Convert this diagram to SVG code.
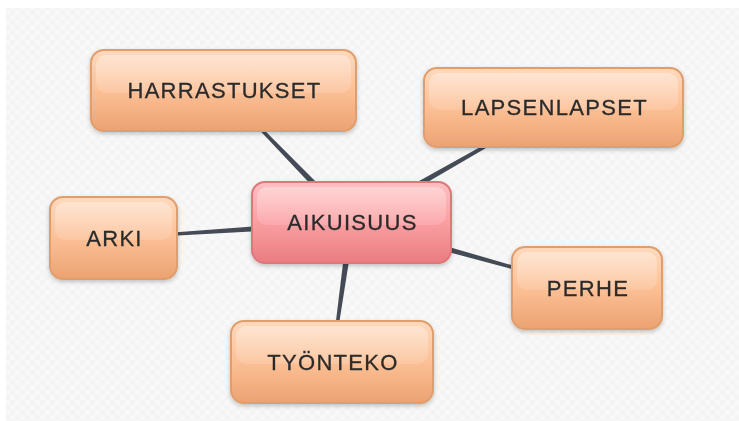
<svg xmlns="http://www.w3.org/2000/svg" width="739" height="421" viewBox="0 0 739 421">
<defs>
<pattern id="chk" width="10" height="10" patternUnits="userSpaceOnUse">
<rect width="10" height="10" fill="#f8f8f8"/>
<rect x="0" y="0" width="5" height="5" fill="#f4f4f4"/>
<rect x="5" y="5" width="5" height="5" fill="#f4f4f4"/>
</pattern>
<linearGradient id="gOr" x1="0" y1="0" x2="0" y2="1">
<stop offset="0" stop-color="#ffd9bd"/>
<stop offset="0.5" stop-color="#fcc096"/>
<stop offset="1" stop-color="#eca272"/>
</linearGradient>
<linearGradient id="gPk" x1="0" y1="0" x2="0" y2="1">
<stop offset="0" stop-color="#ffc0c2"/>
<stop offset="0.5" stop-color="#fa9fa2"/>
<stop offset="1" stop-color="#ea7c80"/>
</linearGradient>
<linearGradient id="gHi" x1="0" y1="0" x2="0" y2="1">
<stop offset="0" stop-color="#ffffff" stop-opacity="0.35"/>
<stop offset="1" stop-color="#ffffff" stop-opacity="0.12"/>
</linearGradient>
<filter id="sh" x="-10%" y="-20%" width="120%" height="150%">
<feDropShadow dx="0" dy="2" stdDeviation="2" flood-color="#000" flood-opacity="0.22"/>
</filter>
</defs>
<style>
.or{fill:url(#gOr);stroke:#e09e6d;stroke-width:2}
.pk{fill:url(#gPk);stroke:#de777a;stroke-width:2}
.hi{fill:url(#gHi)}
.lb{font-family:"Liberation Sans",Arial,sans-serif;font-size:22px;letter-spacing:1.3px;fill:#2b2b2b;stroke:#2b2b2b;stroke-width:0.3;text-anchor:middle}
.cn{fill:#454b56}
</style>
<rect x="6" y="8" width="733" height="413" fill="url(#chk)"/>
<g id="connectors">
<polygon class="cn" points="354.0,220.1 224.2,89.8 222.8,91.2 349.0,224.9"/>
<polygon class="cn" points="353.2,225.5 554.0,108.4 553.0,106.6 349.8,219.5"/>
<polygon class="cn" points="350.6,225.9 586.7,289.0 587.3,287.0 352.4,219.1"/>
<polygon class="cn" points="348.0,222.0 331.0,361.9 333.0,362.1 355.0,223.0"/>
<polygon class="cn" points="351.3,219.0 113.4,237.0 113.6,239.0 351.7,226.0"/>
</g>
<g id="harrastukset" filter="url(#sh)">
<rect class="or" x="91" y="50" width="265" height="81" rx="13"/>
<rect class="hi" x="96" y="55" width="255" height="38" rx="10"/>
<text class="lb" x="224.5" y="98.3">HARRASTUKSET</text>
</g>
<g id="lapsenlapset" filter="url(#sh)">
<rect class="or" x="424" y="68" width="259" height="79" rx="13"/>
<rect class="hi" x="429" y="73" width="249" height="37" rx="10"/>
<text class="lb" x="554.5" y="115.3">LAPSENLAPSET</text>
</g>
<g id="aikuisuus" filter="url(#sh)">
<rect class="pk" x="252" y="182" width="199" height="81" rx="13"/>
<rect class="hi" x="257" y="187" width="189" height="38" rx="10"/>
<text class="lb" x="352.5" y="230.3">AIKUISUUS</text>
</g>
<g id="arki" filter="url(#sh)">
<rect class="or" x="50" y="197" width="127" height="82" rx="13"/>
<rect class="hi" x="55" y="202" width="117" height="38" rx="10"/>
<text class="lb" x="114.5" y="245.8">ARKI</text>
</g>
<g id="perhe" filter="url(#sh)">
<rect class="or" x="512" y="247" width="150" height="82" rx="13"/>
<rect class="hi" x="517" y="252" width="140" height="38" rx="10"/>
<text class="lb" x="588" y="295.8">PERHE</text>
</g>
<g id="tyonteko" filter="url(#sh)">
<rect class="or" x="231" y="321" width="202" height="82" rx="13"/>
<rect class="hi" x="236" y="326" width="192" height="38" rx="10"/>
<text class="lb" x="333" y="369.8">TYÖNTEKO</text>
</g>
</svg>
